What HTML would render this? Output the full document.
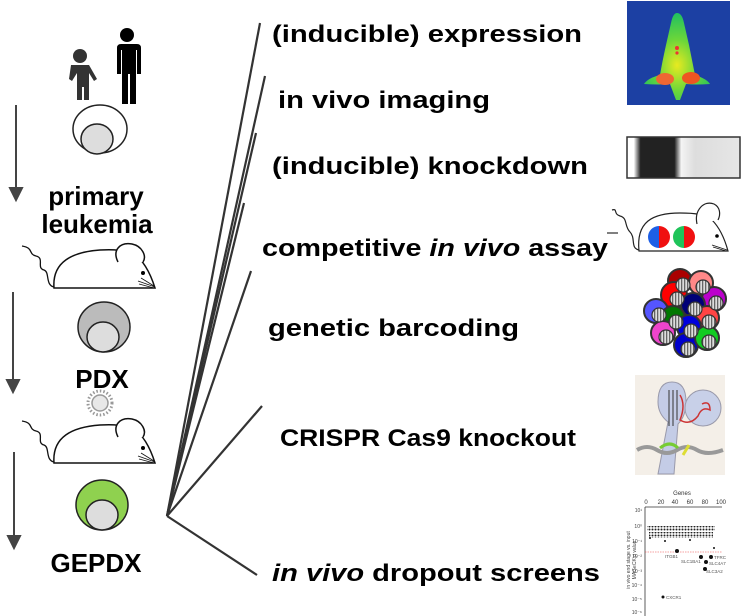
<!DOCTYPE html>
<html><head><meta charset="utf-8"><style>
html,body{margin:0;padding:0;background:#fff;}
svg{display:block;}
text{font-family:"Liberation Sans",Arial,sans-serif;}
</style></head><body>
<svg width="750" height="616" viewBox="0 0 750 616" xmlns="http://www.w3.org/2000/svg">
<defs>
<pattern id="st" width="3" height="4" patternUnits="userSpaceOnUse"><rect width="3" height="4" fill="#ddd"/><rect width="1.3" height="4" fill="#666"/></pattern>
<pattern id="dots" width="3" height="3" patternUnits="userSpaceOnUse"><circle cx="1.5" cy="1.5" r="1" fill="#222"/></pattern>
<radialGradient id="hm" cx="50%" cy="60%" r="60%"><stop offset="0" stop-color="#e8ea20"/><stop offset="0.5" stop-color="#6bd63a"/><stop offset="1" stop-color="#20c060"/></radialGradient>
<linearGradient id="wb" x1="0" x2="1"><stop offset="0" stop-color="#fff"/><stop offset="0.06" stop-color="#fff"/><stop offset="0.12" stop-color="#222"/><stop offset="0.42" stop-color="#222"/><stop offset="0.48" stop-color="#f4f4f4"/><stop offset="0.6" stop-color="#ddd"/><stop offset="1" stop-color="#e6e6e6"/></linearGradient>
<g id="mouse">
<path d="M54 288 C52 262,72 252,100 250 C115 249,125 250,133 254 C142 258,150 272,155 288 Z" fill="#fff" stroke="#111" stroke-width="1.5"/>
<path d="M118 262 C112 250,120 242,132 244 C142 246,147 256,143 262" fill="#fff" stroke="#111" stroke-width="1.5"/>
<path d="M54 287 C45 285,50 272,44 270 C36 268,45 258,36 256 C28 254,34 248,22 246" fill="none" stroke="#111" stroke-width="1.3"/>
<circle cx="143" cy="273" r="2" fill="#000"/>
<path d="M138 281 l17 6 M139 284 l15 4 M141 278 l13 8" stroke="#111" stroke-width="0.8"/>
</g>
</defs>

<g fill="#333">
<circle cx="80" cy="56" r="7"/>
<path d="M71 65 h18 l8 14 -3 2 -5 -8 v27 h-5 v-13 h-2 v13 h-5 v-27 l-5 8 -3 -2z"/>
</g>
<g fill="#000">
<circle cx="127" cy="35" r="7"/>
<path d="M117 44 h20 q4 0 4 4 v26 h-4 v-24 h-1 v54 h-6 v-30 h-2 v30 h-6 v-54 h-1 v24 h-4 v-26 q0-4 4-4z"/>
</g>

<g stroke="#444" stroke-width="2" fill="#444">
<line x1="16" y1="105" x2="16" y2="190"/><path d="M10 188 h12 l-6 12z"/>
<line x1="13" y1="292" x2="13" y2="382"/><path d="M7 380 h12 l-6 12z"/>
<line x1="14" y1="452" x2="14" y2="538"/><path d="M8 536 h12 l-6 12z"/>
</g>

<ellipse cx="100" cy="129" rx="27" ry="24" fill="#fff" stroke="#222" stroke-width="1.5"/>
<ellipse cx="97" cy="139" rx="16" ry="15" fill="#ddd" stroke="#222" stroke-width="1.5"/>
<ellipse cx="104" cy="327" rx="26" ry="25" fill="#bbb" stroke="#222" stroke-width="1.5"/>
<ellipse cx="103" cy="337" rx="16" ry="15" fill="#ddd" stroke="#222" stroke-width="1.5"/>
<ellipse cx="102" cy="505" rx="26" ry="25" fill="#8fd14f" stroke="#222" stroke-width="1.5"/>
<ellipse cx="102" cy="515" rx="16" ry="15" fill="#ddd" stroke="#222" stroke-width="1.5"/>

<g font-weight="bold" font-size="26" fill="#000" text-anchor="middle">
<text x="96" y="205">primary</text>
<text x="97" y="233">leukemia</text>
<text x="102" y="388">PDX</text>
<text x="96" y="572">GEPDX</text>
</g>

<use href="#mouse"/>
<use href="#mouse" transform="translate(0,175)"/>

<circle cx="100" cy="403" r="8" fill="#e8e8e8" stroke="#999" stroke-width="1.5"/>
<circle cx="100" cy="403" r="12" fill="none" stroke="#999" stroke-width="3" stroke-dasharray="1.5 2"/>

<g stroke="#333" stroke-width="2.2" fill="none">
<line x1="167" y1="516" x2="260" y2="23"/>
<line x1="167" y1="516" x2="265" y2="76"/>
<line x1="167" y1="516" x2="256" y2="133"/>
<line x1="167" y1="516" x2="244" y2="203"/>
<line x1="167" y1="516" x2="251" y2="271"/>
<line x1="167" y1="516" x2="262" y2="406"/>
<line x1="167" y1="516" x2="257" y2="575"/>
</g>

<g font-weight="bold" font-size="24" fill="#000">
<text x="272" y="42" textLength="310" lengthAdjust="spacingAndGlyphs">(inducible) expression</text>
<text x="278" y="108" textLength="212" lengthAdjust="spacingAndGlyphs">in vivo imaging</text>
<text x="272" y="174" textLength="316" lengthAdjust="spacingAndGlyphs">(inducible) knockdown</text>
<text x="262" y="256" textLength="346" lengthAdjust="spacingAndGlyphs">competitive <tspan font-style="italic">in vivo</tspan> assay</text>
<text x="268" y="336" textLength="251" lengthAdjust="spacingAndGlyphs">genetic barcoding</text>
<text x="280" y="446" textLength="296" lengthAdjust="spacingAndGlyphs">CRISPR Cas9 knockout</text>
<text x="272" y="581" textLength="328" lengthAdjust="spacingAndGlyphs"><tspan font-style="italic">in vivo</tspan> dropout screens</text>
</g>

<rect x="627" y="1" width="103" height="104" fill="#14308a"/>
<rect x="627" y="1" width="103" height="104" fill="#2a5fd0" opacity="0.35"/>
<path d="M677 13 q5 0 7 10 l5 22 q4 20 6 30 q12 4 15 9 q-14 1 -24 0 l-6 16 h-4 l-6 -16 q-10 1 -26 0 q4 -6 16 -9 q2 -12 6 -30 l5 -22 q2 -10 6 -10z" fill="url(#hm)"/>
<ellipse cx="665" cy="79" rx="9" ry="6" fill="#e63"/><ellipse cx="691" cy="78" rx="9" ry="6" fill="#e52"/>
<circle cx="677" cy="48" r="2" fill="#e33"/><circle cx="677" cy="53" r="1.6" fill="#e33"/>

<rect x="627" y="137" width="113" height="41" fill="url(#wb)" stroke="#333" stroke-width="1.5"/>

<g stroke="#222" stroke-width="1.2" fill="#fff">
<path d="M639 251 C636 222,652 213,680 213 C695 213,704 214,712 220 C720 228,725 240,728 251 Z"/>
<path d="M697 224 C694 210,704 200,714 204 C720 207,721 214,718 220"/>
<path d="M639 250 C630 248,636 238,630 232 C624 226,628 218,620 216 C613 214,618 208,612 210" fill="none"/>
</g>
<path d="M659 226 a11 11 0 0 0 0 22z" fill="#1d5fe6"/><path d="M659 226 a11 11 0 0 1 0 22z" fill="#f01010"/>
<path d="M684 226 a11 11 0 0 0 0 22z" fill="#1fc45a"/><path d="M684 226 a11 11 0 0 1 0 22z" fill="#f01010"/>
<circle cx="717" cy="236" r="1.8" fill="#000"/>
<path d="M712 245 l15 5 M713 247 l13 4" stroke="#111" stroke-width="0.8"/>
<line x1="607" y1="233" x2="618" y2="233" stroke="#000" stroke-width="1"/>

<g stroke="#333" stroke-width="2">
<circle cx="680" cy="281" r="12" fill="#a00"/><circle cx="701" cy="283" r="12" fill="#f88"/>
<circle cx="674" cy="295" r="13" fill="#f00"/><circle cx="714" cy="299" r="12" fill="#b0c"/>
<circle cx="693" cy="305" r="12" fill="#007"/><circle cx="656" cy="311" r="12" fill="#55f"/>
<circle cx="707" cy="318" r="12" fill="#f44"/><circle cx="673" cy="318" r="12" fill="#070"/>
<circle cx="663" cy="333" r="12" fill="#e4c"/><circle cx="689" cy="327" r="12" fill="#00d"/>
<circle cx="686" cy="345" r="12" fill="#00c"/><circle cx="707" cy="338" r="12" fill="#1c2"/>
</g>
<g fill="url(#st)" stroke="#333" stroke-width="1.2">
<circle cx="683" cy="285" r="7"/><circle cx="703" cy="287" r="7"/><circle cx="677" cy="299" r="7"/><circle cx="716" cy="303" r="7"/>
<circle cx="695" cy="309" r="7"/><circle cx="659" cy="315" r="7"/><circle cx="709" cy="322" r="7"/><circle cx="676" cy="322" r="7"/>
<circle cx="666" cy="337" r="7"/><circle cx="691" cy="331" r="7"/><circle cx="688" cy="349" r="7"/><circle cx="709" cy="342" r="7"/>
</g>

<rect x="635" y="375" width="90" height="100" fill="#f4efe8"/>
<path d="M672 382 q14 0 14 20 q0 14 -8 22 l-4 50 h-16 l10 -52 q-10 -8 -10 -20 q0 -20 14 -20z" fill="#c4cce6" stroke="#99a"/>
<circle cx="703" cy="408" r="18" fill="#c8d0e8" stroke="#99a"/>
<path d="M669 390 v36 M673 390 v36 M677 390 v30" stroke="#333" stroke-width="1"/>
<path d="M680 395 q6 10 0 25 q10 6 18 -4 q4 -10 12 -6 q0 -10 -8 -6" stroke="#c33" fill="none" stroke-width="1.5"/>
<path d="M637 450 q10 -6 20 0 q10 6 20 0 q10 -6 20 0 q10 6 26 0" stroke="#999" fill="none" stroke-width="4"/>
<path d="M660 448 q10 -8 18 0" stroke="#7c3" fill="none" stroke-width="3"/>
<path d="M683 455 l6 -10" stroke="#dd3" stroke-width="3"/>

<text x="682" y="495" font-size="6" text-anchor="middle" fill="#333">Genes</text>
<g font-size="6" fill="#333" text-anchor="middle">
<text x="646" y="504">0</text><text x="661" y="504">20</text><text x="675" y="504">40</text><text x="690" y="504">60</text><text x="705" y="504">80</text><text x="721" y="504">100</text>
</g>
<g stroke="#333" stroke-width="0.8"><line x1="645" y1="507" x2="722" y2="507"/><line x1="645" y1="507" x2="645" y2="616"/></g>
<g font-size="5" fill="#444" text-anchor="end">
<text x="642" y="512">10¹</text><text x="642" y="528">10⁰</text><text x="642" y="543">10⁻¹</text><text x="642" y="558">10⁻²</text>
<text x="642" y="573">10⁻³</text><text x="642" y="587">10⁻⁴</text><text x="642" y="601">10⁻⁵</text><text x="642" y="614">10⁻⁶</text>
</g>
<line x1="645" y1="552" x2="722" y2="552" stroke="#e44" stroke-width="0.6" stroke-dasharray="1.5 1"/>
<path d="M647 526 h68 v5 h-68z M649 532 h64 v6 h-64z" fill="url(#dots)"/>
<g fill="#111"><circle cx="650" cy="538" r="1"/><circle cx="665" cy="541" r="1"/><circle cx="677" cy="551" r="2"/><circle cx="701" cy="557" r="2"/><circle cx="706" cy="562" r="2"/><circle cx="711" cy="557" r="2"/><circle cx="705" cy="569" r="2"/><circle cx="663" cy="597" r="1.5"/><circle cx="690" cy="540" r="1"/><circle cx="714" cy="548" r="1"/></g>
<g font-size="4.5" fill="#555"><text x="665" y="558">ITGB1</text><text x="681" y="563">SLC1BA1</text><text x="714" y="559">TFRC</text><text x="709" y="565">SLC4A7</text><text x="706" y="573">SLC3A2</text><text x="666" y="599">CXCR1</text></g>
<text x="630" y="560" font-size="5" fill="#444" transform="rotate(-90 630 560)" text-anchor="middle">in vivo end stage vs. input</text>
<text x="636" y="560" font-size="5" fill="#444" transform="rotate(-90 636 560)" text-anchor="middle">MAGeCK p value</text>
</svg>
</body></html>
